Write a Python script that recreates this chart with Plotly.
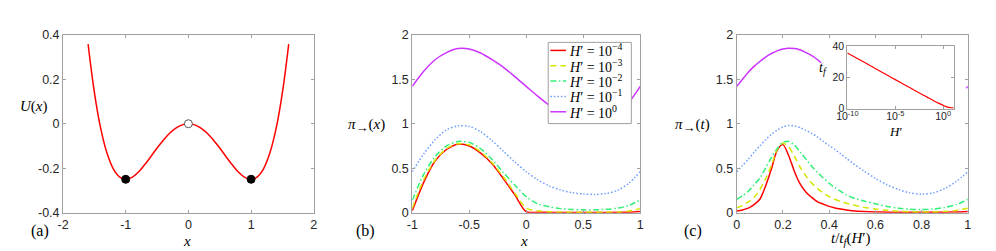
import plotly.graph_objects as go

# ---------------- data ----------------
# panel (a): double-well potential
xa = [-1.6, -1.5, -1.4, -1.3, -1.2, -1.1, -1.0, -0.9, -0.8, -0.7, -0.6, -0.5, -0.4, -0.3, -0.2, -0.1, 0.0,
      0.1, 0.2, 0.3, 0.4, 0.5, 0.6, 0.7, 0.8, 0.9, 1.0, 1.1, 1.2, 1.3, 1.4, 1.5, 1.6]
Ua = [0.358, 0.141, -0.020, -0.131, -0.202, -0.239, -0.250, -0.241, -0.218, -0.185, -0.148, -0.109, -0.074,
      -0.043, -0.020, -0.005, 0.000, -0.005, -0.020, -0.043, -0.074, -0.109, -0.148, -0.185, -0.218, -0.241,
      -0.250, -0.239, -0.202, -0.131, -0.020, 0.141, 0.358]
x_min = [-1.0, 1.0]
U_min = [-0.25, -0.25]
x_max = [0.0]
U_max = [0.0]

# legend labels
H_labels = ["10<sup>−4</sup>", "10<sup>−3</sup>", "10<sup>−2</sup>", "10<sup>−1</sup>", "10<sup>0</sup>"]

# panel (b): pi(x)
xb = [-1.0, -0.9, -0.8, -0.7, -0.6, -0.5, -0.4, -0.3, -0.2, -0.1, 0.0,
      0.1, 0.2, 0.3, 0.4, 0.5, 0.6, 0.7, 0.8, 0.9, 1.0]
pb_1e4 = [0.02, 0.34, 0.58, 0.71, 0.77, 0.75, 0.67, 0.55, 0.38, 0.20, 0.01,
          0.004, 0.003, 0.002, 0.002, 0.002, 0.002, 0.002, 0.003, 0.005, 0.012]
pb_1e3 = [0.05, 0.37, 0.59, 0.72, 0.775, 0.76, 0.685, 0.56, 0.40, 0.22, 0.05,
          0.02, 0.01, 0.006, 0.004, 0.004, 0.004, 0.005, 0.008, 0.018, 0.045]
pb_1e2 = [0.14, 0.43, 0.63, 0.75, 0.80, 0.79, 0.72, 0.60, 0.45, 0.31, 0.18,
          0.10, 0.065, 0.045, 0.035, 0.031, 0.031, 0.037, 0.05, 0.08, 0.145]
pb_1e1 = [0.46, 0.66, 0.82, 0.93, 0.975, 0.97, 0.91, 0.81, 0.69, 0.57, 0.46,
          0.37, 0.30, 0.255, 0.225, 0.21, 0.205, 0.215, 0.25, 0.33, 0.46]
pb_1e0 = [1.42, 1.59, 1.72, 1.80, 1.845, 1.84, 1.795, 1.72, 1.635, 1.53, 1.42,
          1.31, 1.21, 1.12, 1.06, 1.04, 1.04, 1.07, 1.13, 1.24, 1.42]

# panel (c): pi(t)
tc = [0.0, 0.025, 0.05, 0.075, 0.1, 0.125, 0.15, 0.175, 0.2, 0.225, 0.25, 0.275, 0.3, 0.325, 0.35, 0.375,
      0.4, 0.425, 0.45, 0.475, 0.5, 0.55, 0.6, 0.65, 0.7, 0.75, 0.8, 0.85, 0.9, 0.95, 1.0]
pc_1e4 = [0.018, 0.03, 0.05, 0.09, 0.15, 0.30, 0.49, 0.70, 0.765, 0.64, 0.46, 0.32, 0.23, 0.17, 0.12, 0.095,
          0.07, 0.052, 0.04, 0.03, 0.022, 0.013, 0.008, 0.005, 0.004, 0.003, 0.003, 0.004, 0.005, 0.007, 0.012]
pc_1e3 = [0.055, 0.08, 0.12, 0.17, 0.26, 0.38, 0.53, 0.71, 0.78, 0.74, 0.63, 0.51, 0.41, 0.33, 0.27, 0.22,
          0.18, 0.15, 0.125, 0.105, 0.087, 0.06, 0.04, 0.026, 0.016, 0.01, 0.007, 0.008, 0.013, 0.025, 0.05]
pc_1e2 = [0.15, 0.19, 0.24, 0.31, 0.39, 0.50, 0.62, 0.72, 0.79, 0.80, 0.76, 0.68, 0.60, 0.52, 0.45, 0.39,
          0.33, 0.28, 0.24, 0.20, 0.17, 0.13, 0.10, 0.07, 0.05, 0.038, 0.034, 0.04, 0.058, 0.09, 0.15]
pc_1e1 = [0.46, 0.53, 0.60, 0.68, 0.75, 0.82, 0.88, 0.93, 0.965, 0.98, 0.975, 0.955, 0.925, 0.89, 0.85, 0.80,
          0.755, 0.71, 0.66, 0.61, 0.56, 0.47, 0.385, 0.315, 0.26, 0.222, 0.208, 0.222, 0.27, 0.35, 0.46]
tc_1e0 = [0.0, 0.025, 0.05, 0.075, 0.1, 0.125, 0.15, 0.175, 0.2, 0.225, 0.25, 0.275, 0.3, 0.325, 0.35, 0.365,
          None, 0.993, 1.0]
pc_1e0 = [1.42, 1.50, 1.58, 1.645, 1.70, 1.75, 1.79, 1.82, 1.84, 1.85, 1.845, 1.83, 1.80, 1.765, 1.72, 1.687,
          None, 1.40, 1.42]

# inset: t_f vs H'
H_in = [1e-10, 1e-9, 1e-8, 1e-7, 1e-6, 1e-5, 1e-4, 1e-3, 1e-2, 0.0316, 0.1, 0.316, 1.0, 2.0, 4.0, 7.9, 12.6]
tf_in = [35.8, 32.4, 29.0, 25.5, 22.1, 18.7, 15.3, 11.9, 8.5, 6.9, 5.2, 3.6, 2.2, 1.4, 0.9, 0.65, 0.55]

# ---------------- styling ----------------
W, H = 996, 251
def px(x):
    return x / W
def py(y):
    return 1 - y / H

colors = ["#ff0000", "#d4e600", "#33ee77", "#6f9fff", "#cc33ff"]
dashes = ["solid", "6px,4px", "6px,2.5px,1.5px,2.5px", "1.5px,2px", "solid"]
LW = 1.5
AX = "#a0a0a0"
TXT = "#262626"
SANS = "'Liberation Sans', Arial, sans-serif"
SERIF = "'Liberation Serif', 'Times New Roman', Times, serif"

fig = go.Figure()

# panel (a)
fig.add_trace(go.Scatter(x=xa, y=Ua, mode="lines", line=dict(color="#ff0000", width=LW, shape="spline"),
                         xaxis="x", yaxis="y", showlegend=False))
fig.add_trace(go.Scatter(x=x_min, y=U_min, mode="markers",
                         marker=dict(color="black", size=8, line=dict(color="black", width=1)),
                         xaxis="x", yaxis="y", showlegend=False))
fig.add_trace(go.Scatter(x=x_max, y=U_max, mode="markers",
                         marker=dict(color="white", size=8, line=dict(color="#555555", width=1)),
                         xaxis="x", yaxis="y", showlegend=False))

# panel (b)
for ys, c, d, lab in zip([pb_1e4, pb_1e3, pb_1e2, pb_1e1, pb_1e0], colors, dashes, H_labels):
    fig.add_trace(go.Scatter(x=xb, y=ys, mode="lines", name="H′ = " + lab,
                             line=dict(color=c, width=LW, dash=d, shape="spline", smoothing=0.8),
                             xaxis="x2", yaxis="y2", showlegend=False))

# panel (c)
for ts, ys, c, d in zip([tc, tc, tc, tc, tc_1e0], [pc_1e4, pc_1e3, pc_1e2, pc_1e1, pc_1e0], colors, dashes):
    fig.add_trace(go.Scatter(x=ts, y=ys, mode="lines",
                             line=dict(color=c, width=LW, dash=d, shape="spline", smoothing=0.8),
                             connectgaps=False, xaxis="x3", yaxis="y3", showlegend=False))

# inset
fig.add_trace(go.Scatter(x=H_in, y=tf_in, mode="lines", line=dict(color="#ff0000", width=1.2, shape="spline"),
                         xaxis="x4", yaxis="y4", showlegend=False))

def axis(domain, rng, tickvals, ticktext, anchor, size=12.5, typ="linear", standoff=0):
    return dict(domain=domain, range=rng, tickvals=tickvals, ticktext=ticktext, anchor=anchor, type=typ,
                showgrid=False, zeroline=False, showline=True, linecolor=AX, linewidth=1, mirror="allticks",
                ticks="inside", ticklen=3, tickcolor=AX, tickwidth=1, ticklabelstandoff=standoff,
                tickfont=dict(family=SANS, size=size, color=TXT), fixedrange=True)

ydom = [py(209.3), py(21)]
fig.update_layout(
    width=W, height=H, autosize=False,
    margin=dict(l=0, r=0, t=0, b=0),
    paper_bgcolor="white", plot_bgcolor="white",
    xaxis=axis([px(44.7), px(299.3)], [-2, 2], [-2, -1, 0, 1, 2], ["-2", "-1", "0", "1", "2"], "y"),
    yaxis=axis(ydom, [-0.4, 0.4], [-0.4, -0.2, 0, 0.2, 0.4], ["-0.4", "-0.2", "0", "0.2", "0.4"], "x"),
    xaxis2=axis([px(399.3), px(630.7)], [-1, 1], [-1, -0.5, 0, 0.5, 1], ["-1", "-0.5", "0", "0.5", "1"], "y2"),
    yaxis2=axis(ydom, [0, 2], [0, 0.5, 1, 1.5, 2], ["0", "0.5", "1", "1.5", "2"], "x2"),
    xaxis3=axis([px(728.7), px(963.3)], [0, 1], [0, 0.2, 0.4, 0.6, 0.8, 1],
                ["0", "0.2", "0.4", "0.6", "0.8", "1"], "y3"),
    yaxis3=axis(ydom, [0, 2], [0, 0.5, 1, 1.5, 2], ["0", "0.5", "1", "1.5", "2"], "x3"),
    xaxis4=axis([px(841), px(949)], [-10, 1.1], [1e-10, 1e-5, 1],
                ["10<sup>-10</sup>", "10<sup>-5</sup>", "10<sup>0</sup>"], "y4", size=10.5, typ="log",
                standoff=-2),
    yaxis4=axis([py(99.3), py(33.3)], [0, 40], [0, 20, 40], ["0", "20", "40"], "x4", size=10.5),
)

# manual legend for panel (b)
shapes = [dict(type="rect", xref="paper", yref="paper", x0=px(537.3), x1=px(621.7), y0=py(115), y1=py(29),
               fillcolor="white", line=dict(color=AX, width=1), layer="above")]
annotations = []
row_y = [37.5, 53.8, 70.0, 86.3, 102.5]
for yy, c, d, lab in zip(row_y, colors, dashes, H_labels):
    shapes.append(dict(type="line", xref="paper", yref="paper", x0=px(539.5), x1=px(555.5), y0=py(yy), y1=py(yy),
                       line=dict(color=c, width=LW, dash=d), layer="above"))
    annotations.append(dict(xref="paper", yref="paper", x=px(556.5), y=py(yy), xanchor="left", yanchor="middle",
                            text="<i>H</i>′ = " + lab, showarrow=False,
                            font=dict(family=SERIF, size=14, color="black")))

def label(x, y, text, size=15):
    annotations.append(dict(xref="paper", yref="paper", x=px(x), y=py(y), xanchor="center", yanchor="middle",
                            text=text, showarrow=False, font=dict(family=SERIF, size=size, color="black")))

ARROW = "<sub><span style='font-size:13px'>→</span></sub>"
label(15, 97, "<i>U</i>(<i>x</i>)")
label(171, 239, "<i>x</i>")
label(353, 117, "<i>π</i>" + ARROW + "(<i>x</i>)")
label(513, 239, "<i>x</i>")
label(684, 117, "<i>π</i>" + ARROW + "(<i>t</i>)")
label(845, 237, "<i>t</i>/<i>t</i><sub><i>f</i></sub>(<i>H</i>′)")
label(816, 57, "<i>t</i><sub><i>f</i></sub>", size=14)
label(890, 123, "<i>H</i>′", size=13)
label(21, 229, "(a)", size=16)
label(352, 229, "(b)", size=16)
label(684, 229, "(c)", size=16)

fig.update_layout(shapes=shapes, annotations=annotations)
fig.write_html("out.html")
